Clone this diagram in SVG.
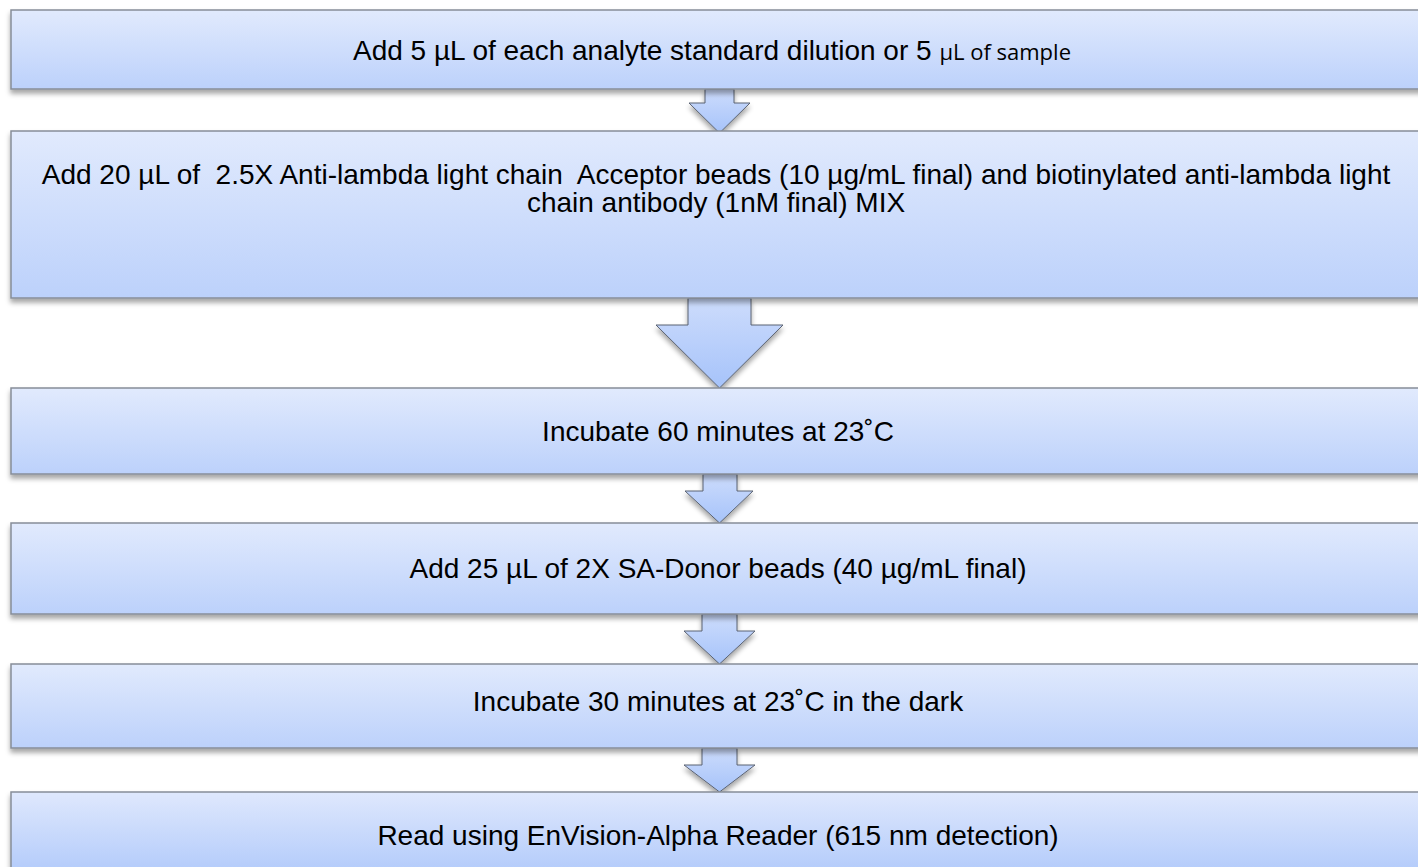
<svg xmlns="http://www.w3.org/2000/svg" width="1418" height="867" viewBox="0 0 1418 867">
  <defs>
    <linearGradient id="boxGrad" x1="0" y1="0" x2="0" y2="1">
      <stop offset="0" stop-color="#e1eafd"/>
      <stop offset="1" stop-color="#bcd1fb"/>
    </linearGradient>
    <linearGradient id="boxGradLast" x1="0" y1="0" x2="0" y2="1">
      <stop offset="0" stop-color="#dfe8fd"/>
      <stop offset="1" stop-color="#a8c4fa"/>
    </linearGradient>
    <linearGradient id="arrowGrad" x1="0" y1="0" x2="0" y2="1">
      <stop offset="0" stop-color="#cddcfc"/>
      <stop offset="1" stop-color="#a6c3fa"/>
    </linearGradient>
    <filter id="shadow" x="-5%" y="-20%" width="110%" height="160%">
      <feDropShadow dx="0" dy="4" stdDeviation="2.5" flood-color="#000" flood-opacity="0.35"/>
    </filter>
  </defs>
  <style>
    .box { stroke: #878d98; stroke-width: 1.5; filter: url(#shadow); }
    .arrow { fill: url(#arrowGrad); stroke: #5b6372; stroke-width: 1; filter: url(#shadow); }
    .label { font-family: "Liberation Sans", Arial, sans-serif; font-size: 28px; fill: #000; text-anchor: middle; }
    .small { font-family: "Open Sans", "Noto Sans", sans-serif; font-size: 22px; }
  </style>

  <g id="connectors">
    <polygon class="arrow" points="705,89 734,89 734,103 750,103 719.5,133 689,103 705,103"/>
    <polygon class="arrow" points="688,298 751,298 751,325 783,325 719.5,388 656,325 688,325"/>
    <polygon class="arrow" points="703,474 737,474 737,491 753,491 719.5,523 685,491 703,491"/>
    <polygon class="arrow" points="702,614 737,614 737,631 755,631 719.5,664 684,631 702,631"/>
    <polygon class="arrow" points="702,748 737,748 737,765 755,765 719.5,792 684,765 702,765"/>
  </g>

  <g id="step1">
    <rect class="box" x="11" y="10" width="1430" height="79" fill="url(#boxGrad)"/>
    <text class="label" x="712" y="60">Add 5 µL of each analyte standard dilution or 5 <tspan class="small">µL of sample</tspan></text>
  </g>

  <g id="step2">
    <rect class="box" x="11" y="131" width="1430" height="167" fill="url(#boxGrad)"/>
    <text class="label" x="716" y="184" xml:space="preserve">Add 20 µL of  2.5X Anti-lambda light chain  Acceptor beads (10 µg/mL final) and biotinylated anti-lambda light</text>
    <text class="label" x="716" y="212">chain antibody (1nM final) MIX</text>
  </g>

  <g id="step3">
    <rect class="box" x="11" y="388" width="1430" height="86" fill="url(#boxGrad)"/>
    <text class="label" x="718" y="441">Incubate 60 minutes at 23˚C</text>
  </g>

  <g id="step4">
    <rect class="box" x="11" y="523" width="1430" height="91" fill="url(#boxGrad)"/>
    <text class="label" x="718" y="578">Add 25 µL of 2X SA-Donor beads (40 µg/mL final)</text>
  </g>

  <g id="step5">
    <rect class="box" x="11" y="664" width="1430" height="84" fill="url(#boxGrad)"/>
    <text class="label" x="718" y="711">Incubate 30 minutes at 23˚C in the dark</text>
  </g>

  <g id="step6">
    <rect class="box" x="11" y="792" width="1430" height="100" fill="url(#boxGradLast)"/>
    <text class="label" x="718" y="845">Read using EnVision-Alpha Reader (615 nm detection)</text>
  </g>
</svg>
